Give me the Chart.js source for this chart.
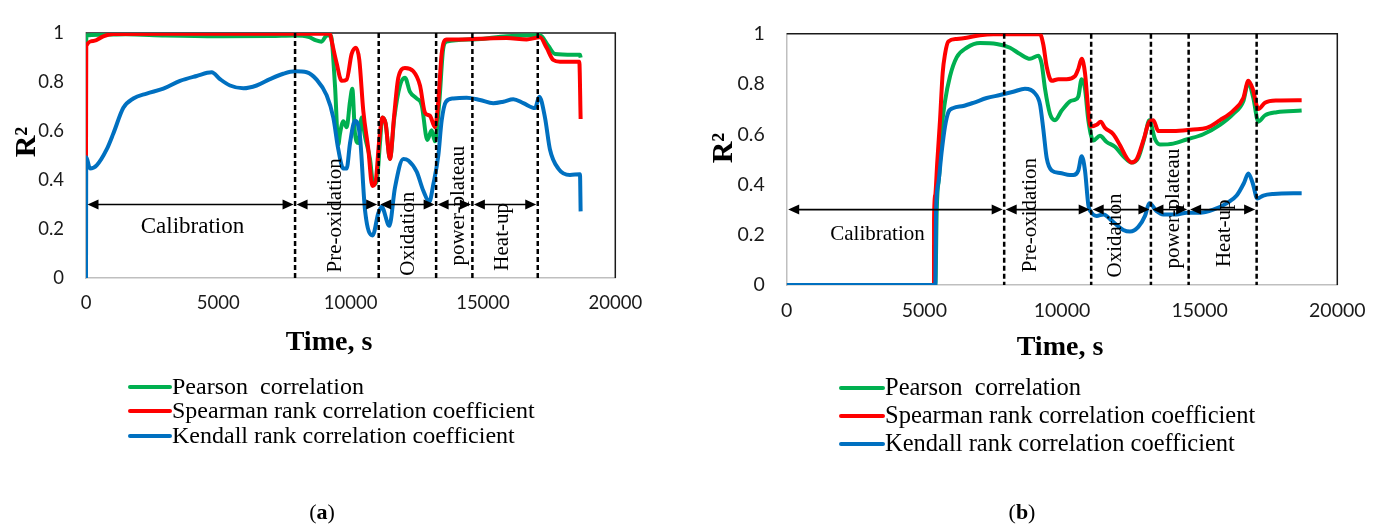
<!DOCTYPE html>
<html><head><meta charset="utf-8">
<script src="https://cdn.jsdelivr.net/npm/chart.js@4.4.1/dist/chart.umd.min.js"></script>
<style>
html,body{margin:0;padding:0;background:#fff;width:1381px;height:525px;overflow:hidden;}
canvas{position:absolute;top:0;}
#ca{left:0;} #cb{left:690px;}
</style></head><body>
<canvas id="ca" width="690" height="525"></canvas>
<canvas id="cb" width="691" height="525"></canvas>
<script>
// ---------- data ----------
const seriesNames = ['Pearson  correlation', 'Spearman rank correlation coefficient', 'Kendall rank correlation coefficient'];
const captions = ['a', 'b'];
const xTitle = 'Time, s';
const yTitle = 'R²';
const xTicks = [0, 5000, 10000, 15000, 20000];
const yTicks = [0, 0.2, 0.4, 0.6, 0.8, 1];
const phaseNames = ['Calibration', 'Pre-oxidation', 'Oxidation', 'power-plateau', 'Heat-up'];
const phaseBounds = [0, 7900, 11060, 13230, 14600, 17070];
const arrowLevel = 0.3;
const phaseLabelT_a = [4024, 9428, 12186, 14060, 15738];
const phaseLabelV_a = [0.207, 0.256, 0.181, 0.295, 0.168];
const phaseLabelT_b = [3298, 8838, 11925, 14043, 15885];
const phaseLabelV_b = [0.2, 0.278, 0.197, 0.304, 0.206];

// chart (a)
const aPearsonT = [0,20,500,1500,3000,5000,7000,7900,8400,8700,8900,9100,9250,9408,9534,9597,9723,9849,9975,10063,10164,10290,10416,10542,10731,10857,10983,11108,11197,11322,11486,11650,11864,12053,12242,12494,12683,12897,13060,13186,13350,13501,13627,14635,15894,17153,17468,17720,18413,18665,18690];
const aPearsonV = [0.95,0.99,0.993,0.995,0.99,0.987,0.988,0.99,0.985,0.97,0.965,0.99,0.99,0.786,0.545,0.59,0.64,0.616,0.72,0.773,0.59,0.551,0.655,0.577,0.486,0.382,0.395,0.551,0.655,0.63,0.486,0.655,0.786,0.818,0.76,0.733,0.707,0.564,0.603,0.558,0.72,0.94,0.965,0.974,0.987,0.991,0.948,0.915,0.912,0.912,0.9];
const aSpearmanT = [0,10,277,655,1033,3000,6000,9219,9282,9471,9660,9849,10038,10202,10327,10479,10668,10819,10945,11071,11197,11322,11486,11637,11801,12053,12368,12620,12809,12998,13186,13312,13438,13627,14131,14887,15894,16650,17153,17405,17657,17909,18413,18640,18690];
const aSpearmanV = [0.49,0.948,0.968,0.987,0.996,0.997,0.997,0.997,0.968,0.877,0.805,0.81,0.915,0.94,0.89,0.681,0.525,0.376,0.395,0.551,0.655,0.63,0.486,0.655,0.818,0.857,0.844,0.786,0.675,0.662,0.616,0.72,0.915,0.974,0.974,0.977,0.98,0.974,0.983,0.94,0.89,0.883,0.883,0.883,0.649];
const aKendallT = [0,10,151,403,781,1033,1411,1788,2292,2922,3552,4181,4748,5063,5441,5945,6448,6952,7456,7897,8338,8715,9093,9345,9534,9723,9849,9975,10164,10353,10542,10831,11045,11171,11461,11675,11990,12179,12494,12746,12972,13123,13312,13438,13602,13879,14383,14887,15390,15768,16146,16524,16965,17128,17343,17531,17846,18287,18665,18690];
const aKendallV = [0,0.493,0.447,0.46,0.525,0.59,0.695,0.733,0.753,0.773,0.805,0.825,0.84,0.812,0.786,0.775,0.786,0.812,0.834,0.844,0.84,0.81,0.746,0.655,0.525,0.447,0.447,0.55,0.642,0.577,0.278,0.174,0.265,0.291,0.213,0.369,0.486,0.48,0.434,0.356,0.311,0.382,0.5,0.642,0.72,0.733,0.736,0.727,0.714,0.72,0.73,0.714,0.694,0.74,0.655,0.525,0.447,0.421,0.424,0.272];

// chart (b)
const bPearsonT = [0,5400,5450,5550,5630,5751,5932,6174,6538,7022,7627,8111,8474,8837,9140,9261,9383,9564,9746,9988,10290,10472,10593,10714,10835,10956,11138,11380,11622,11925,12228,12531,12772,13015,13172,13377,13558,14042,14527,15132,15738,16222,16586,16768,16950,17131,17373,17797,18705];
const bPearsonV = [0,0,0.3,0.45,0.619,0.731,0.831,0.906,0.944,0.9625,0.959,0.944,0.919,0.9,0.9125,0.881,0.781,0.681,0.656,0.694,0.731,0.7375,0.75,0.819,0.781,0.656,0.575,0.594,0.569,0.55,0.5125,0.4875,0.506,0.594,0.656,0.581,0.559,0.5625,0.579,0.6,0.6375,0.681,0.731,0.806,0.744,0.65,0.675,0.6875,0.694];
const bSpearmanT = [0,5351,5352,5387,5472,5569,5666,5751,5872,6174,6538,7022,7506,9201,9322,9443,9625,9867,10169,10472,10593,10714,10835,10956,11041,11259,11404,11562,11865,12107,12349,12531,12712,12955,13172,13317,13498,14042,14769,15253,15738,16222,16586,16768,16925,17131,17373,17797,18705];
const bSpearmanV = [0,0,0.256,0.356,0.494,0.656,0.844,0.919,0.969,0.979,0.984,0.994,0.998,0.998,0.956,0.869,0.8125,0.819,0.819,0.831,0.86,0.9,0.844,0.694,0.631,0.6375,0.65,0.625,0.6,0.556,0.506,0.4875,0.5,0.575,0.65,0.656,0.6125,0.6125,0.619,0.625,0.656,0.694,0.744,0.8125,0.781,0.7,0.725,0.734,0.735];
const bKendallT = [0,5400,5424,5508,5630,5751,5872,6053,6416,6780,7264,7748,8232,8656,9019,9201,9322,9443,9625,9927,10290,10412,10593,10714,10835,10956,11077,11259,11501,11865,12228,12470,12772,13015,13172,13437,13679,14163,14527,15011,15496,15980,16344,16610,16768,16925,17095,17313,17676,18402,18705];
const bKendallV = [0,0,0.29,0.406,0.531,0.631,0.6875,0.704,0.7125,0.725,0.744,0.756,0.769,0.781,0.7625,0.719,0.619,0.506,0.456,0.446,0.4375,0.4375,0.456,0.5125,0.456,0.319,0.2875,0.275,0.281,0.25,0.219,0.2125,0.231,0.275,0.325,0.294,0.281,0.281,0.2875,0.2875,0.3,0.325,0.356,0.406,0.444,0.406,0.344,0.356,0.3625,0.365,0.365];

// ---------- helpers ----------
const colors = ['#00B050', '#FF0000', '#0070C0'];
const SERIF = '"Liberation Serif", "Times New Roman", serif';
const SANS = 'Lato, "Open Sans", sans-serif';
function pts(t, v) { return t.map((x, i) => ({ x: x, y: v[i] })); }

const decoPlugin = {
  id: 'deco',
  beforeDatasetsDraw(chart) {
    const { ctx, chartArea: ca } = chart;
    ctx.save();
    ctx.strokeStyle = '#1a1a1a';
    ctx.lineWidth = 1.5;
    ctx.beginPath();
    ctx.moveTo(ca.left, ca.top);
    ctx.lineTo(ca.right, ca.top);
    ctx.lineTo(ca.right, ca.bottom);
    ctx.stroke();
    ctx.restore();
  },
  afterDatasetsDraw(chart, args, o) {
    const { ctx, scales: { x, y } } = chart;
    ctx.save();
    // dashed phase boundaries
    ctx.strokeStyle = '#000';
    ctx.lineWidth = 2.5;
    ctx.setLineDash([5, 3]);
    const yTop = y.getPixelForValue(1), yBot = y.getPixelForValue(0);
    phaseBounds.slice(1).forEach(b => {
      const px = x.getPixelForValue(b);
      ctx.beginPath(); ctx.moveTo(px, yTop); ctx.lineTo(px, yBot); ctx.stroke();
    });
    ctx.setLineDash([]);
    // double arrows
    const ay = y.getPixelForValue(arrowLevel);
    ctx.lineWidth = 1.6;
    ctx.fillStyle = '#000';
    const hl = 11, hw = 5;
    for (let i = 0; i < phaseBounds.length - 1; i++) {
      const x1 = x.getPixelForValue(phaseBounds[i]) + 1.5;
      const x2 = x.getPixelForValue(phaseBounds[i + 1]) - 1.5;
      ctx.beginPath(); ctx.moveTo(x1 + 4, ay); ctx.lineTo(x2 - 4, ay); ctx.stroke();
      ctx.beginPath(); ctx.moveTo(x1, ay); ctx.lineTo(x1 + hl, ay - hw); ctx.lineTo(x1 + hl, ay + hw); ctx.closePath(); ctx.fill();
      ctx.beginPath(); ctx.moveTo(x2, ay); ctx.lineTo(x2 - hl, ay - hw); ctx.lineTo(x2 - hl, ay + hw); ctx.closePath(); ctx.fill();
    }
    // phase labels
    ctx.fillStyle = '#000';
    ctx.textAlign = 'center';
    ctx.textBaseline = 'middle';
    phaseNames.forEach((name, i) => {
      const px = x.getPixelForValue(o.labelT[i]);
      const py = y.getPixelForValue(o.labelV[i]);
      if (i === 0) {
        ctx.font = o.calFont + 'px ' + SERIF;
        ctx.fillText(name, px, py);
      } else {
        ctx.save();
        ctx.font = o.rotFont + 'px ' + SERIF;
        ctx.translate(px, py);
        ctx.rotate(-Math.PI / 2);
        ctx.fillText(name, 0, 0);
        ctx.restore();
      }
    });
    ctx.restore();
  },
  afterDraw(chart, args, o) {
    const ctx = chart.ctx;
    ctx.save();
    // axis titles
    ctx.fillStyle = '#000';
    ctx.textAlign = 'center';
    ctx.textBaseline = 'middle';
    ctx.font = 'bold 28px ' + SERIF;
    ctx.fillText(xTitle, o.xTitleX, o.xTitleY);
    ctx.save();
    ctx.translate(o.yTitleX, o.yTitleY);
    ctx.rotate(-Math.PI / 2);
    ctx.font = 'bold 30px ' + SERIF;
    ctx.fillText(yTitle, 0, 0);
    ctx.restore();
    // legend
    chart.data.datasets.forEach((ds, i) => {
      const ry = o.legRows[i];
      ctx.strokeStyle = ds.borderColor;
      ctx.lineWidth = 4;
      ctx.lineCap = 'round';
      ctx.beginPath(); ctx.moveTo(o.legX1, ry); ctx.lineTo(o.legX2, ry); ctx.stroke();
      ctx.fillStyle = '#000';
      ctx.font = o.legFont + 'px ' + SERIF;
      ctx.textAlign = 'left';
      ctx.textBaseline = 'middle';
      ctx.fillText(ds.label, o.legX2 + 2, ry + 1);
    });
    // caption
    ctx.fillStyle = '#000';
    ctx.textBaseline = 'middle';
    ctx.textAlign = 'left';
    const fR = '22px ' + SERIF, fB = 'bold 22px ' + SERIF;
    ctx.font = fR; const w1 = ctx.measureText('(').width;
    ctx.font = fB; const w2 = ctx.measureText(o.caption).width;
    let cx = o.capX - (2 * w1 + w2) / 2;
    ctx.font = fR; ctx.fillText('(', cx, o.capY);
    ctx.font = fB; ctx.fillText(o.caption, cx + w1, o.capY);
    ctx.font = fR; ctx.fillText(')', cx + w1 + w2, o.capY);
    ctx.restore();
  }
};

function makeChart(id, series, L) {
  const datasets = series.map((s, i) => ({
    label: seriesNames[i],
    data: pts(s[0], s[1]),
    borderColor: colors[i],
    backgroundColor: colors[i],
    borderWidth: 4,
    pointRadius: 0,
    fill: false,
    cubicInterpolationMode: 'monotone',
    borderJoinStyle: 'round',
    order: 2 - i
  }));
  return new Chart(document.getElementById(id), {
    type: 'line',
    data: { datasets },
    plugins: [decoPlugin],
    options: {
      responsive: false,
      animation: false,
      devicePixelRatio: 1,
      layout: { padding: L.padding },
      plugins: {
        legend: { display: false },
        tooltip: { enabled: false },
        deco: L.deco
      },
      scales: {
        x: {
          type: 'linear',
          min: xTicks[0], max: xTicks[xTicks.length - 1],
          afterBuildTicks: s => { s.ticks = xTicks.map(v => ({ value: v })); },
          afterFit: s => { s.height = L.xH; },
          grid: { display: false, drawTicks: false },
          border: { color: '#bfbfbf', width: 1.5 },
          ticks: { padding: 14, color: '#1a1a1a', font: { family: SANS, size: L.tickSize }, maxRotation: 0, callback: v => String(v) },
          title: { display: false }
        },
        y: {
          type: 'linear',
          min: yTicks[0], max: yTicks[yTicks.length - 1],
          afterBuildTicks: s => { s.ticks = yTicks.map(v => ({ value: v })); },
          afterFit: s => { s.width = L.yW; },
          grid: { display: false, drawTicks: false },
          border: { color: '#bfbfbf', width: 1.5 },
          ticks: { padding: 22, color: '#1a1a1a', font: { family: SANS, size: L.tickSize }, callback: v => String(Number(v.toFixed(1))) },
          title: { display: false }
        }
      }
    }
  });
}

makeChart('ca', [[aPearsonT, aPearsonV], [aSpearmanT, aSpearmanV], [aKendallT, aKendallV]], {
  padding: { left: 0, top: 21.7, right: 74.7, bottom: 165.2 },
  xH: 81.8, yW: 86, tickSize: 18.5,
  deco: { labelT: phaseLabelT_a, labelV: phaseLabelV_a, calFont: 23, rotFont: 21,
          xTitleX: 329, xTitleY: 343, yTitleX: 27, yTitleY: 142,
          legRows: [387, 411, 436], legX1: 130, legX2: 170, legFont: 24,
          caption: captions[0], capX: 322, capY: 513 }
});
makeChart('cb', [[bPearsonT, bPearsonV], [bSpearmanT, bSpearmanV], [bKendallT, bKendallV]], {
  padding: { left: 0, top: 18.3, right: 43.7, bottom: 160.2 },
  xH: 79.8, yW: 96.7, tickSize: 19.5,
  deco: { labelT: phaseLabelT_b, labelV: phaseLabelV_b, calFont: 21, rotFont: 21,
          xTitleX: 370, xTitleY: 348, yTitleX: 34, yTitleY: 148,
          legRows: [388, 416, 444], legX1: 151, legX2: 193, legFont: 24.5,
          caption: captions[1], capX: 332, capY: 513 }
});
</script>
</body></html>
